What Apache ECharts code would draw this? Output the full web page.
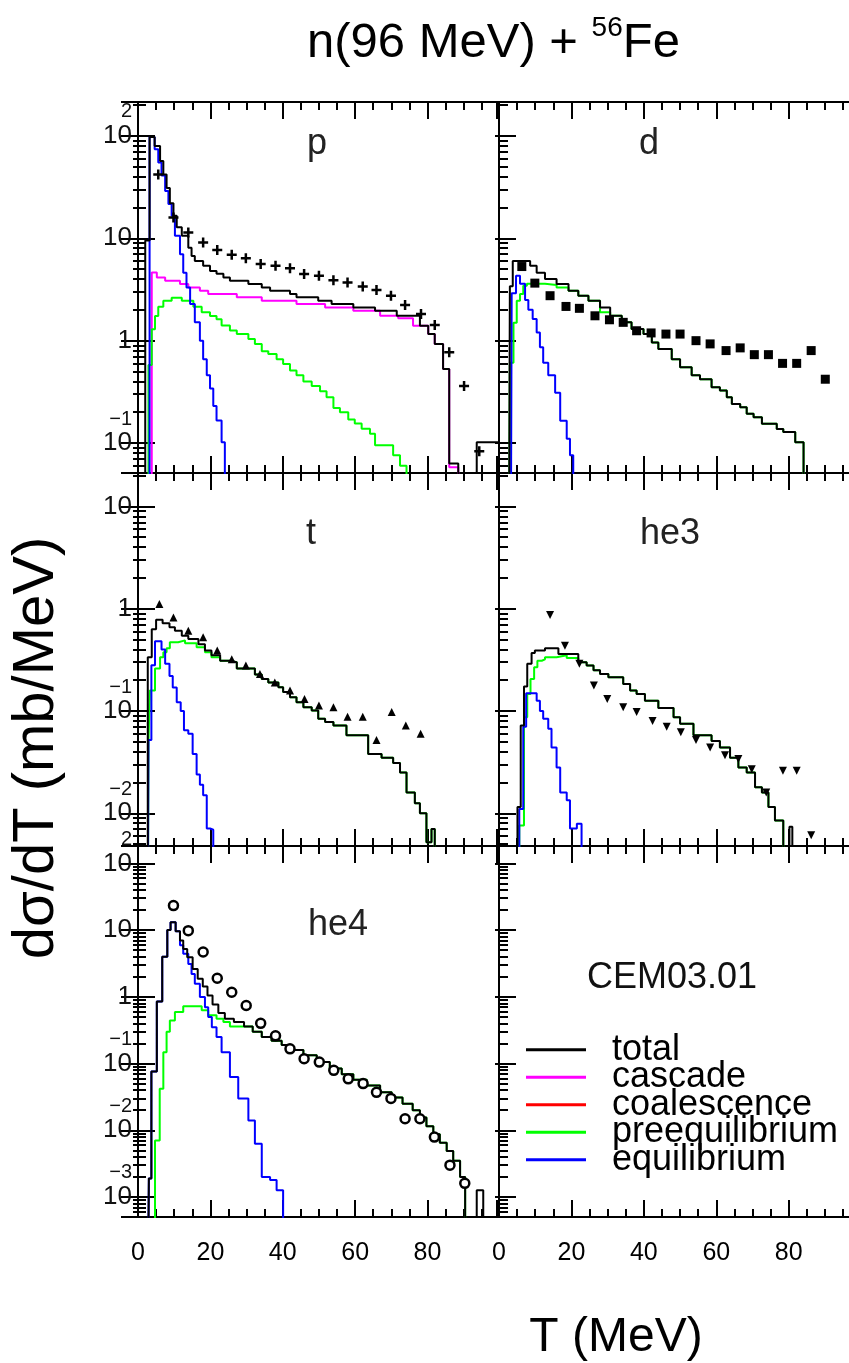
<!DOCTYPE html>
<html><head><meta charset="utf-8">
<script src="https://cdn.jsdelivr.net/npm/echarts@6/dist/echarts.min.js"></script>
<style>html,body{margin:0;padding:0;background:#fff}#c{width:849px;height:1363px}</style>
</head><body><div id="c"></div>
<script>
const FONT = '"Liberation Sans", Arial, Helvetica, sans-serif';

// ---------- data (T in MeV, dσ/dT in mb/MeV); histograms: [left bin edge, value] ----------
const pTotal = [[1,1e-5],[2,9.5],[3.2,98],[4.6,80],[6.1,57],[7,42],[7.9,31],[8.8,22],[9.8,16.6],[10.7,12.8],[12.1,10.6],[13.9,8.1],[14.8,6.7],[15.7,6.0],[18,5.4],[19.9,4.8],[21.7,4.5],[23.6,4.15],[25.4,3.85],[30.5,3.57],[34.2,3.3],[36.5,3.07],[42,2.85],[43.8,2.65],[49.8,2.46],[53.5,2.28],[59.5,2.11],[65.5,1.96],[71.5,1.75],[77.9,1.4],[80.2,1.16],[82,0.93],[84.3,0.53],[86,0.063],[88.5,1e-5],[93.6,0.102],[99.5,0.102]];
const pCascade = [[3,1e-5],[3.8,4.64],[5.2,4.15],[7.5,3.85],[11.6,3.57],[13.9,3.31],[17.1,3.07],[19.4,2.85],[27.3,2.65],[34.2,2.46],[43.8,2.28],[51.7,2.11],[59.5,1.96],[66.9,1.75],[71.9,1.66],[76,1.4],[80.2,1.16],[82,0.93],[84.3,0.53],[86,0.058],[88.5,1e-5]];
const pPreeq = [[2,1e-5],[2.9,0.58],[3.8,1.29],[4.7,1.74],[5.6,2.14],[7,2.45],[9.3,2.63],[12.1,2.45],[15.3,2.14],[17.6,1.9],[19.9,1.74],[21.7,1.62],[23.1,1.41],[25.4,1.26],[27.3,1.16],[30.5,1.04],[32.3,0.93],[34.2,0.79],[36,0.74],[38.3,0.66],[40.1,0.59],[42,0.51],[43.8,0.46],[45.7,0.40],[48,0.36],[50.3,0.32],[52.1,0.28],[54,0.22],[55.8,0.20],[58.1,0.17],[59.9,0.155],[61.8,0.138],[64.1,0.123],[65.5,0.095],[70.5,0.076],[72.4,0.060],[74.2,1e-5]];
const pEquil = [[2.5,1e-5],[3.2,98],[4.6,74],[5.6,55],[6.5,41],[7.5,29],[8.4,21.6],[9.3,16.6],[10.2,10.6],[11.6,7.0],[12.5,4.6],[13.4,3.3],[14.4,2.28],[15.7,1.51],[17.1,1.0],[18,0.66],[19,0.46],[19.9,0.34],[20.8,0.23],[21.7,0.166],[23.1,0.102],[24,1e-5]];
const pExp = [[5.6,42],[9.8,16],[13.9,11.4],[18,9.1],[21.9,7.7],[25.9,6.9],[29.8,6.4],[33.9,5.6],[38,5.4],[42,5.1],[45.9,4.47],[50,4.3],[54,3.9],[57.9,3.7],[62.1,3.39],[65.9,3.12],[69.9,2.75],[73.8,2.23],[78.2,1.82],[82,1.42],[86,0.77],[90.1,0.36],[94.3,0.083]];

const dTotal = [[2.5,1e-5],[3,3.4],[3.8,6.0],[8.6,5.4],[10.4,4.6],[12.7,4.0],[15.9,3.57],[19.2,3.07],[21.9,2.75],[24.7,2.46],[27.9,2.11],[30.7,1.75],[33.9,1.51],[36.6,1.30],[39.9,1.16],[42.2,0.96],[44,0.83],[47.7,0.66],[50,0.55],[53.2,0.46],[55.5,0.42],[58.7,0.35],[61,0.325],[62.9,0.28],[64.3,0.24],[66.6,0.224],[68.4,0.193],[70.3,0.179],[72.6,0.154],[76.7,0.137],[78.5,0.128],[81.8,0.102],[84.1,1e-5]];
const dPreeq = [[2.5,1e-5],[3,0.61],[4,1.5],[4.9,2.46],[5.8,2.86],[6.7,3.44],[7.7,3.6],[12.7,3.5],[15.9,3.3],[19.2,3.07],[21.9,2.75],[24.7,2.46],[27.9,1.89],[30.7,1.75],[33.9,1.51],[36.6,1.30],[39.9,1.16],[42.2,0.96],[44,0.83],[47.7,0.66],[50,0.55],[53.2,0.46],[55.5,0.42],[58.7,0.35],[61,0.325],[62.9,0.28],[64.3,0.24],[66.6,0.224],[68.4,0.193],[70.3,0.179],[72.6,0.154],[76.7,0.137],[78.5,0.128],[81.8,0.102],[84.1,1e-5]];
const dEquil = [[3,1e-5],[3.5,2.9],[4.7,4.3],[5.8,3.6],[7.2,2.5],[8.1,2.0],[9.3,1.63],[10.4,1.2],[11.3,0.86],[12.2,0.61],[13.6,0.46],[15.5,0.31],[16.9,0.165],[18.7,0.11],[19.6,0.076],[20.5,1e-5]];
const dExp = [[6.3,5.3],[9.9,3.65],[14.1,2.75],[18.5,2.16],[22.2,2.07],[26.5,1.75],[30.5,1.60],[34.3,1.51],[38,1.25],[42,1.19],[46.1,1.16],[50,1.16],[54.4,1.0],[58.3,0.93],[62.7,0.80],[66.6,0.85],[70.5,0.73],[74.4,0.73],[78.3,0.60],[82.2,0.60],[86.2,0.80],[90.1,0.42]];

const tTotal = [[2,1e-5],[2.7,0.335],[3.8,0.63],[5.0,0.78],[6.8,0.72],[8.7,0.66],[10.2,0.61],[12.1,0.545],[13.9,0.506],[16.7,0.45],[18.5,0.39],[20.3,0.35],[22.7,0.31],[25.4,0.30],[27.3,0.26],[32.3,0.227],[34.2,0.206],[36,0.19],[38.8,0.171],[40.1,0.153],[42,0.136],[43.8,0.122],[45.7,0.109],[48,0.101],[49.8,0.084],[51.7,0.078],[54,0.072],[57.6,0.058],[63.6,0.038],[67.3,0.035],[70.5,0.031],[72.4,0.025],[74.2,0.016],[76.5,0.0125],[77.9,0.01],[79.7,0.0052],[81.1,0.007],[82,1e-5]];
const tPreeq = [[2.5,1e-5],[2.9,0.052],[3.3,0.159],[4.7,0.26],[6.1,0.335],[7.0,0.375],[7.9,0.41],[8.8,0.47],[11.1,0.49],[13.0,0.46],[16.2,0.42],[18.5,0.375],[20.3,0.335],[22.7,0.31],[25.4,0.30],[27.3,0.26],[32.3,0.227],[34.2,0.206],[36,0.19],[38.8,0.171],[40.1,0.153],[42,0.136],[43.8,0.122],[45.7,0.109],[48,0.101],[49.8,0.084],[51.7,0.078],[54,0.072],[57.6,0.058],[63.6,0.038],[67.3,0.035],[70.5,0.031],[72.4,0.025],[74.2,0.016],[76.5,0.0125],[77.9,0.01],[79.7,0.0052],[81.1,0.007],[82,1e-5]];
const tEquil = [[2.5,1e-5],[2.9,0.052],[3.7,0.28],[4.7,0.48],[6.5,0.40],[7.5,0.29],[8.7,0.22],[9.6,0.17],[10.7,0.122],[11.8,0.10],[12.7,0.065],[13.9,0.06],[15.1,0.038],[16.2,0.024],[17.1,0.019],[18,0.015],[19,0.0071],[19.9,0.0069],[20.8,1e-5]];
const tExp = [[5.9,1.11],[9.8,0.82],[13.9,0.61],[18,0.525],[21.9,0.39],[25.9,0.32],[29.8,0.278],[33.7,0.23],[37.8,0.19],[42,0.159],[46,0.131],[50,0.113],[54,0.109],[57.9,0.088],[62.1,0.088],[65.9,0.052],[70.1,0.098],[74,0.072],[78.1,0.06]];

const he3Total = [[4,1e-5],[5.1,0.0115],[6.0,0.072],[6.9,0.174],[7.8,0.29],[9.0,0.37],[9.9,0.39],[12.7,0.41],[16.4,0.36],[21.9,0.30],[24.2,0.278],[26.1,0.25],[27.9,0.23],[30.2,0.214],[34.3,0.184],[36.2,0.159],[38,0.147],[40.3,0.126],[44,0.107],[48.2,0.087],[50,0.075],[53.7,0.058],[58.7,0.051],[61,0.044],[63.8,0.035],[66.1,0.028],[68.4,0.025],[70.7,0.018],[72.6,0.016],[74.4,0.0115],[76.2,0.0085],[78.5,1e-5],[80.2,0.0074],[81,1e-5]];
const he3Preeq = [[5,1e-5],[5.6,0.0076],[6.9,0.087],[7.8,0.147],[8.7,0.206],[9.7,0.268],[10.6,0.31],[11.8,0.32],[12.7,0.335],[15.9,0.35],[18.7,0.33],[21.9,0.30],[24.2,0.278],[26.1,0.25],[27.9,0.23],[30.2,0.214],[34.3,0.184],[36.2,0.159],[38,0.147],[40.3,0.126],[44,0.107],[48.2,0.087],[50,0.075],[53.7,0.058],[58.7,0.051],[61,0.044],[63.8,0.035],[66.1,0.028],[68.4,0.025],[70.7,0.018],[72.6,0.016],[74.4,0.0115],[76.2,0.0085],[78.5,1e-5]];
const he3Equil = [[5,1e-5],[5.6,0.011],[6.7,0.07],[7.5,0.149],[10.4,0.126],[11.3,0.1],[12.2,0.084],[13.6,0.067],[14.5,0.044],[15.9,0.028],[16.9,0.016],[18.7,0.0134],[19.6,0.0071],[21.5,0.0079],[22.8,1e-5]];
const he3Exp = [[14.1,0.87],[18.2,0.435],[22.2,0.29],[26.2,0.178],[29.9,0.131],[34.3,0.109],[38,0.098],[42.4,0.08],[46.3,0.07],[50.2,0.062],[54.4,0.052],[58.3,0.044],[62.4,0.037],[66.1,0.034],[69.8,0.027],[73.8,0.016],[78.4,0.026],[82.2,0.026],[86.2,0.0061]];

const he4Total = [[2.5,1e-6],[3.0,0.0019],[3.7,0.076],[5.2,0.85],[6.7,4.0],[8.1,10],[9.0,13.1],[10.4,9.6],[11.6,7.0],[12.5,5.2],[13.6,3.9],[15.1,2.6],[16.5,1.86],[17.9,1.43],[19.2,1.05],[20.6,0.77],[22.2,0.57],[24,0.47],[26.5,0.42],[29.3,0.36],[31.7,0.30],[34.2,0.25],[36.9,0.22],[39.7,0.19],[42.4,0.16],[45.7,0.133],[49.4,0.105],[53,0.084],[56.3,0.069],[59.5,0.057],[63.2,0.047],[66.9,0.037],[70.1,0.031],[73.1,0.025],[75.9,0.020],[77.9,0.0155],[79.7,0.0115],[81.6,0.0087],[83.4,0.0065],[85.3,0.0049],[87.1,0.0035],[89,0.002],[90.4,1e-6],[93.6,0.00126],[95.4,1e-6]];
const he4Preeq = [[4,1e-6],[4.7,0.007],[6.0,0.042],[7.0,0.148],[7.9,0.30],[8.8,0.44],[10.2,0.59],[12.5,0.72],[17.6,0.63],[19.4,0.53],[21.7,0.47],[23.6,0.42],[25.4,0.36],[29.3,0.36],[31.7,0.30],[34.2,0.25],[36.9,0.22],[39.7,0.19],[42.4,0.16],[45.7,0.133],[49.4,0.105],[53,0.084],[56.3,0.069],[59.5,0.057],[63.2,0.047],[66.9,0.037],[70.1,0.031],[73.1,0.025],[75.9,0.020],[77.9,0.0155],[79.7,0.0115],[81.6,0.0087],[83.4,0.0065],[85.3,0.0049],[87.1,0.0035],[89,0.002],[90.4,1e-6]];
const he4Equil = [[2.5,1e-6],[3.0,0.0019],[3.7,0.076],[5.2,0.85],[6.7,4.0],[8.1,10],[9.0,13.1],[10.4,9.6],[11.6,5.9],[12.5,4.4],[13.9,3.1],[14.8,2.2],[15.7,1.57],[17.1,0.99],[18.5,0.70],[19.4,0.50],[20.4,0.35],[21.7,0.25],[23.1,0.148],[25.4,0.063],[27.7,0.030],[30.5,0.014],[32.3,0.0063],[34.2,0.002],[36.5,0.0018],[38.3,0.00126],[40.1,1e-6]];
const he4Exp = [[9.8,23.3],[13.9,9.8],[18,4.7],[21.9,1.9],[25.9,1.17],[29.9,0.74],[33.9,0.40],[38,0.26],[42,0.166],[45.9,0.118],[50.1,0.105],[54.1,0.079],[58.1,0.059],[62.2,0.050],[65.9,0.037],[69.9,0.030],[73.8,0.0149],[77.9,0.0149],[81.9,0.0079],[86.2,0.0030],[90.3,0.0016]];

const componentNames = ['total','cascade','coalescence','preequilibrium','equilibrium'];
const componentColors = ['#000000','#ff00ff','#ff0000','#00ff00','#0000ff'];
const panelLabels = ['p','d','t','he3','he4',''];
const xTickLabels = [0,20,40,60,80];
const yDecadeExtents = [[-1.293,2.332],[-2.32,1.327],[-3.30,2.26]]; // log10 of axis min/max per row

// ---------- layout ----------
const cols = [{left:138, width:359, xmax:99.2},{left:499, width:352, xmax:97.2}];
const rows = [{top:102, height:371},{top:473, height:373},{top:846, height:371}];

const panels = [
  {row:0,col:0,hist:{total:pTotal,cascade:pCascade,preequilibrium:pPreeq,equilibrium:pEquil},exp:pExp,sym:'path://M3,0H5V3H8V5H5V8H3V5H0V3H3Z',size:10},
  {row:0,col:1,hist:{total:dTotal,preequilibrium:dPreeq,equilibrium:dEquil},exp:dExp,sym:'rect',size:9},
  {row:1,col:0,hist:{total:tTotal,preequilibrium:tPreeq,equilibrium:tEquil},exp:tExp,sym:'triangle',size:8},
  {row:1,col:1,hist:{total:he3Total,preequilibrium:he3Preeq,equilibrium:he3Equil},exp:he3Exp,sym:'triangle',size:8,rot:180},
  {row:2,col:0,hist:{total:he4Total,preequilibrium:he4Preeq,equilibrium:he4Equil},exp:he4Exp,sym:'circle',size:9,open:true},
  {row:2,col:1,hist:{},exp:null}
];

const grid=[], xAxis=[], yAxis=[], series=[];
function logLabel(v){
  const l=Math.log10(v), e=Math.round(l);
  if(Math.abs(l-e)>1e-6) return '';
  if(e===0) return '{m|1}';
  if(e===1) return '{m|10}';
  return '{s|'+(e<0?'\u2212'+(-e):e)+'}\n{m|10}\n{s| }';
}
const lineBlack={show:true,lineStyle:{color:'#000',width:2}};
panels.forEach((P,i)=>{
  const c=cols[P.col], r=rows[P.row], ye=yDecadeExtents[P.row];
  grid.push({left:c.left, top:r.top, width:c.width, height:r.height, outerBoundsMode:'none'});
  const xBase={gridIndex:i,type:'value',min:0,max:c.xmax,interval:20,axisLine:lineBlack,
    axisTick:{show:true,inside:true,length:17,lineStyle:{color:'#000',width:2}},
    minorTick:{show:true,splitNumber:4,length:8,lineStyle:{color:'#000',width:2}},
    splitLine:{show:false},minorSplitLine:{show:false}};
  xAxis.push(Object.assign({},xBase,{position:'bottom',
    axisLabel:{show:P.row===2,margin:24,fontSize:25,fontFamily:FONT,color:'#000',
      formatter:v=>xTickLabels.indexOf(v)>=0?String(v):''}}));
  xAxis.push(Object.assign({},xBase,{position:'top',axisLabel:{show:false}}));
  const yBase={gridIndex:i,type:'log',logBase:10,min:Math.pow(10,ye[0]),max:Math.pow(10,ye[1]),
    axisLine:lineBlack,splitLine:{show:false},minorSplitLine:{show:false}};
  yAxis.push(Object.assign({},yBase,{position:'left',
    axisTick:{show:true,inside:true,length:17,lineStyle:{color:'#000',width:2}},
    minorTick:{show:true,splitNumber:9,length:P.col===1?9:8,lineStyle:{color:'#000',width:2}},
    axisLabel:{show:P.col===0,margin:6,formatter:logLabel,align:'right',
      rich:{m:{fontSize:26,lineHeight:28,fontFamily:FONT,color:'#111',align:'right'},
            s:{fontSize:20,lineHeight:20,fontFamily:FONT,color:'#111',align:'right'}}}}));
  yAxis.push(Object.assign({},yBase,{position:'right',
    axisTick:{show:true,inside:true,length:P.col===0?17:4,lineStyle:{color:'#000',width:2}},
    minorTick:{show:P.col===0,splitNumber:9,length:5,lineStyle:{color:'#000',width:2}},
    axisLabel:{show:false}}));
  const order=['cascade','coalescence','preequilibrium','equilibrium','total'];
  order.forEach(name=>{
    const data=P.hist[name]; if(!data) return;
    const col=componentColors[componentNames.indexOf(name)];
    series.push({type:'line',name,data,xAxisIndex:2*i,yAxisIndex:2*i,step:'end',
      showSymbol:false,symbol:'none',lineStyle:{color:col,width:2},itemStyle:{color:col},
      z:name==='total'?4:3,clip:true,silent:true,animation:false});
  });
  if(P.exp){
    series.push({type:'scatter',name:'exp',data:P.exp,xAxisIndex:2*i,yAxisIndex:2*i,
      symbol:P.sym,symbolSize:P.size,symbolRotate:P.rot||0,
      itemStyle:P.open?{color:'#fff',borderColor:'#000',borderWidth:2.5,opacity:1}:{color:'#000',opacity:1},
      z:6,silent:true,animation:false});
  }
});
// coalescence (legend entry only; not visible in panels)
series.push({type:'line',name:'coalescence',data:[],xAxisIndex:10,yAxisIndex:10,
  showSymbol:false,lineStyle:{color:'#ff0000',width:2},itemStyle:{color:'#ff0000'}});

const panelPos=[[317,144],[649,144],[311,534],[670,534],[338,925]];
const graphic=[];
panelPos.forEach((p,i)=>graphic.push({type:'text',x:p[0],y:p[1],silent:true,
  style:{text:panelLabels[i],fontSize:36,fontFamily:FONT,fill:'#222',align:'center',verticalAlign:'middle'}}));
graphic.push({type:'text',x:672,y:978,silent:true,style:{text:'CEM03.01',fontSize:36,fontFamily:FONT,fill:'#111',align:'center',verticalAlign:'middle'}});
graphic.push({type:'text',x:616,y:1338,silent:true,style:{text:'T (MeV)',fontSize:48,fontFamily:FONT,fill:'#000',align:'center',verticalAlign:'middle'}});
graphic.push({type:'text',x:37,y:748,rotation:Math.PI/2,silent:true,style:{text:'d\u03c3/dT (mb/MeV)',fontSize:58,fontFamily:FONT,fill:'#000',align:'center',verticalAlign:'middle'}});

const chart=echarts.init(document.getElementById('c'),null,{renderer:'canvas'});
chart.setOption({
  backgroundColor:'#fff',
  animation:false,
  title:{text:'{a|n(96 MeV) + }{s|56}{a|Fe}',left:307,top:14,padding:0,
    textStyle:{fontWeight:'normal',rich:{a:{fontSize:49,lineHeight:58,fontWeight:'normal',fontFamily:FONT,color:'#000'},
      s:{fontSize:28,lineHeight:28,verticalAlign:'top',fontWeight:'normal',fontFamily:FONT,color:'#000'}}}},
  legend:{data:componentNames,orient:'vertical',left:526,top:1028,padding:0,itemWidth:60,itemHeight:3,
    itemGap:-16,icon:'rect',selectedMode:false,
    textStyle:{fontSize:36,fontFamily:FONT,color:'#000',lineHeight:27.5,padding:[0,0,16,21]}},
  grid, xAxis, yAxis, series, graphic
});
</script></body></html>
